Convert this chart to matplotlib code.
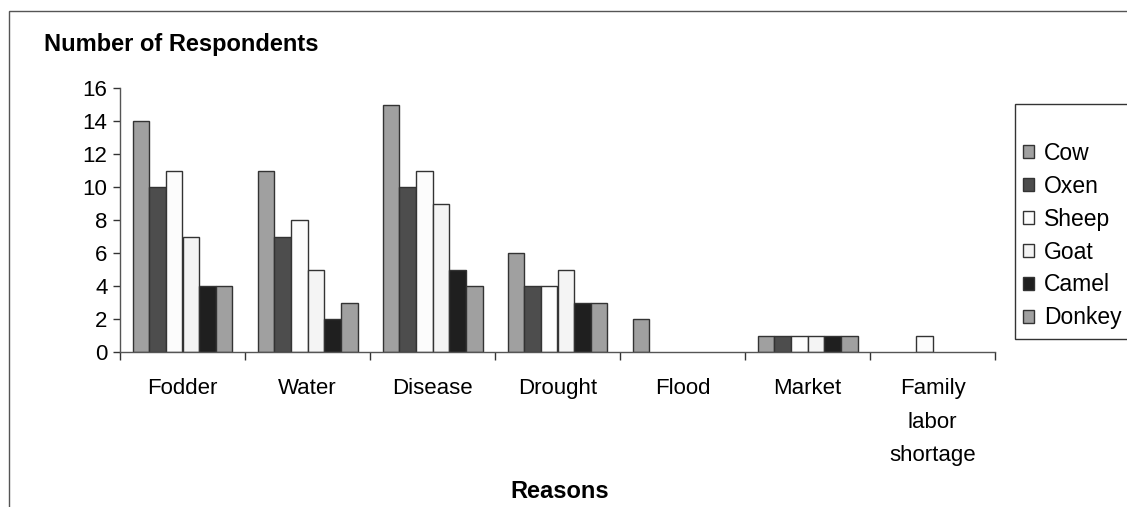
import matplotlib.pyplot as plt
import numpy as np
from matplotlib.patches import Rectangle
from matplotlib.ticker import FixedLocator, NullFormatter

plt.rcParams['font.family'] = ['Liberation Sans', 'DejaVu Sans']

# data
reasons = ['Fodder', 'Water', 'Disease', 'Drought', 'Flood', 'Market', 'Family\nlabor\nshortage']
animals = ['Cow', 'Oxen', 'Sheep', 'Goat', 'Camel', 'Donkey']
cow = [14, 11, 15, 6, 2, 1, 0]
oxen = [10, 7, 10, 4, 0, 1, 0]
sheep = [11, 8, 11, 4, 0, 1, 1]
goat = [7, 5, 9, 5, 0, 1, 0]
camel = [4, 2, 5, 3, 0, 1, 0]
donkey = [4, 3, 4, 3, 0, 1, 0]
series = [cow, oxen, sheep, goat, camel, donkey]
colors = ['#a0a0a0', '#4d4d4d', '#fcfcfc', '#f4f4f4', '#1f1f1f', '#a0a0a0']

W, H = 1127, 507
fig = plt.figure(figsize=(W / 100, H / 100), dpi=100)
ax = fig.add_axes([120 / W, 1 - 352 / H, (995 - 120) / W, (352 - 88) / H])

x = np.arange(len(reasons))
bw = 0.8 / 6
handles = []
for i, (vals, name) in enumerate(zip(series, animals)):
    vals = np.array(vals, dtype=float)
    pos = x - 0.4 + bw * (i + 0.5)
    mask = vals > 0
    b = ax.bar(pos[mask], vals[mask], width=bw, color=colors[i],
               edgecolor='#333333', linewidth=1.0, label=name)
    handles.append(b)

ax.set_xlim(-0.5, len(reasons) - 0.5)
ax.set_ylim(0, 16)
ax.set_yticks(range(0, 17, 2))
ax.tick_params(axis='y', labelsize=16, length=5, width=1, direction='out',
               pad=4, color='#333333')

ax.set_xticks(x)
ax.set_xticklabels(reasons, fontsize=16, linespacing=1.76, va='top')
ax.tick_params(axis='x', which='major', length=0, pad=19)
ax.xaxis.set_minor_locator(FixedLocator(np.arange(-0.5, len(reasons), 1)))
ax.xaxis.set_minor_formatter(NullFormatter())
ax.tick_params(axis='x', which='minor', length=6, width=1, direction='out',
               color='#333333')

for s in ['top', 'right']:
    ax.spines[s].set_visible(False)
for s in ['left', 'bottom']:
    ax.spines[s].set_color('#555555')
    ax.spines[s].set_linewidth(1)

fig.text(44 / W, 1 - 45 / H, 'Number of Respondents', fontsize=17,
         fontweight='bold', va='center', ha='left')
fig.text(560 / W, 1 - 491 / H, 'Reasons', fontsize=17,
         fontweight='bold', va='center', ha='center')

# outer frame of the chart area
fig.patches.append(Rectangle((8.5 / W, -0.1), 1.2, 1.1 - 10.5 / H,
                             transform=fig.transFigure, fill=False,
                             edgecolor='#555555', linewidth=1))

# legend frame
fig.patches.append(Rectangle((1015.5 / W, 1 - 338.5 / H), 0.2, (338 - 103) / H,
                             transform=fig.transFigure, fill=True,
                             facecolor='white', edgecolor='#333333', linewidth=1))

leg = fig.legend(handles=handles, labels=animals, loc='upper left',
                 bbox_to_anchor=(1023 / W, 1 - 142 / H),
                 fontsize=16.5, frameon=False, handlelength=0.5, handleheight=0.5,
                 handletextpad=0.42, labelspacing=0.43, borderaxespad=0,
                 borderpad=0)

fig.savefig('out.png', dpi=100)
